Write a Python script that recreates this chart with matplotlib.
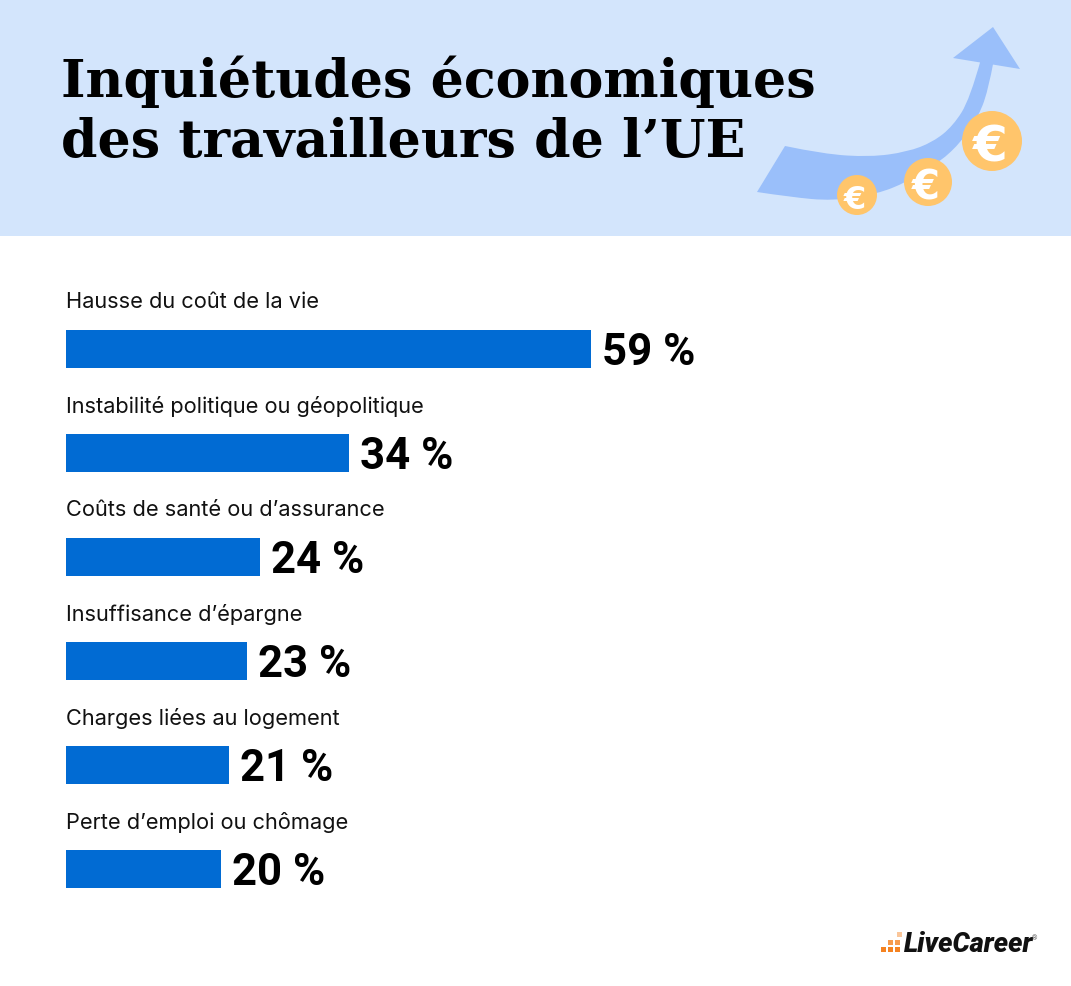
import matplotlib
matplotlib.use('Agg')
import matplotlib.pyplot as plt
from matplotlib.patches import Circle, PathPatch, Polygon, Rectangle
from matplotlib.path import Path

W, H = 1071, 987

title_lines = ['Inquiétudes économiques', 'des travailleurs de l’UE']
categories = ['Hausse du coût de la vie', 'Instabilité politique ou géopolitique',
              'Coûts de santé ou d’assurance', 'Insuffisance d’épargne',
              'Charges liées au logement', 'Perte d’emploi ou chômage']
# printed percentages
values = [59, 34, 24, 23, 21, 20]
# the bars in the picture are not proportional to the printed numbers,
# so these are the lengths as drawn, in units of the longest bar's percent
drawn_values = [59, 31.8, 21.8, 20.3, 18.3, 17.4]

BLUE = '#016bd3'
HEADER = '#d3e5fc'
ARROW = '#9abffa'
COIN = '#ffc56b'
ORANGE = '#f58220'


def smooth_path(pts):
    """Points are control points of a quadratic spline, the two ends are kept."""
    verts = [pts[0]]
    codes = [Path.MOVETO]
    for i in range(1, len(pts) - 1):
        if i < len(pts) - 2:
            end = ((pts[i][0] + pts[i + 1][0]) / 2, (pts[i][1] + pts[i + 1][1]) / 2)
        else:
            end = pts[i + 1]
        verts += [pts[i], end]
        codes += [Path.CURVE3, Path.CURVE3]
    return verts, codes


fig = plt.figure(figsize=(W / 100, H / 100), dpi=100, facecolor='white')

# background layer in pixel coordinates
bg = fig.add_axes([0, 0, 1, 1])
bg.set_xlim(0, W)
bg.set_ylim(H, 0)
bg.axis('off')
bg.add_patch(Rectangle((0, 0), W, 237, color=HEADER, lw=0))

for line, y in zip(title_lines, [97, 157]):
    bg.text(61, y, line, family='DejaVu Serif', weight='bold', fontsize=37.6,
            va='baseline', ha='left', color='black')

# arrow shaft and head
top = [(785, 147), (823, 155), (870, 158), (907, 153), (933, 143), (953, 127), (970, 100), (981, 60)]
bottom = [(994, 60), (988, 93), (977, 120), (962, 142), (940, 163), (907, 183), (877, 195),
          (833, 202), (790, 198), (757, 193)]
verts, codes = smooth_path(top)
v2, c2 = smooth_path(bottom)
verts += v2 + [(757, 193)]
codes += [Path.LINETO] + c2[1:] + [Path.CLOSEPOLY]
bg.add_patch(PathPatch(Path(verts, codes), facecolor=ARROW, edgecolor='none'))
bg.add_patch(Polygon([(953, 59), (993, 28), (1020, 70)], facecolor=ARROW, edgecolor='none'))

# coins
for cx, cy, r, fs in [(857, 196, 20, 23), (928, 183, 24, 29), (992, 142, 30, 36)]:
    bg.add_patch(Circle((cx, cy), r, color=COIN, lw=0))
    bg.text(cx - 2, cy + 1, '€', color='white', family='DejaVu Sans', weight='bold', fontsize=fs,
            ha='center', va='center_baseline')

# bars, 8.9 px per unit, 104 px between rows
ax = fig.add_axes([66 / W, 1 - 922 / H, 1000 / W, 624 / H])
ax.set_xlim(0, 1000 / 8.9)
ax.set_ylim(5.5, -0.5)
ax.axis('off')
ax.barh(range(len(categories)), drawn_values, height=38 / 104, color=BLUE, lw=0)

for i, (cat, val, drawn) in enumerate(zip(categories, values, drawn_values)):
    ax.text(0, i - 0.46, cat, family='Inter', fontsize=15.7, color='#111111',
            va='center', ha='left', clip_on=False)
    ax.text(drawn + 1.25, i + 0.025, f'{val} %', family='Roboto', weight='bold', fontsize=31.5,
            color='black', va='center', ha='left', clip_on=False)

# logo
for x, y, a in [(881, 948, 1), (888, 948, 1), (895, 948, 1),
                (888, 941, .8), (895, 941, .8), (897, 933, .45)]:
    bg.add_patch(Rectangle((x, y), 5, 4.5, color=ORANGE, alpha=a, lw=0))
bg.text(904, 944, 'LiveCareer', family='Roboto', weight='black', style='italic',
        fontsize=19.5, color='#111111', ha='left', va='center')
bg.text(1032, 939, '®', family='Roboto', fontsize=5, color='#555555', ha='left', va='center')

fig.savefig('out.png', dpi=100, facecolor='white')
